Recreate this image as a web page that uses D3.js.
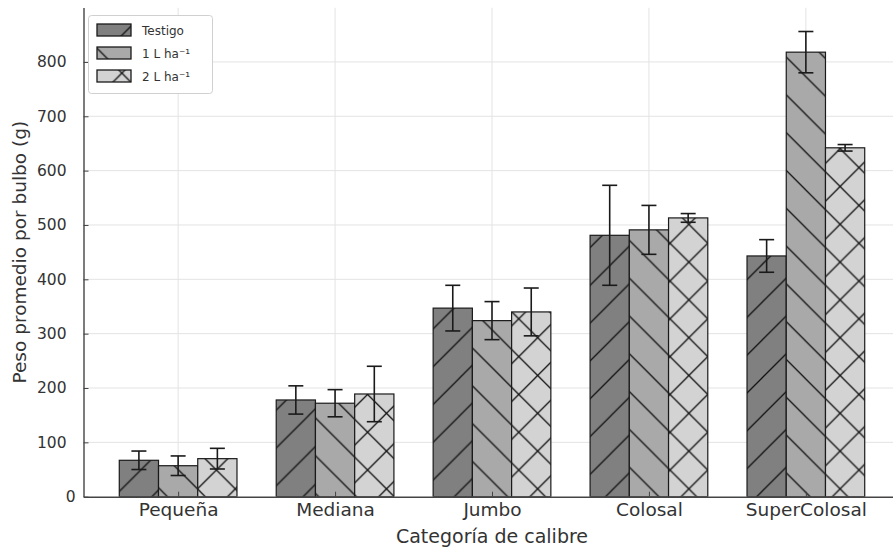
<!DOCTYPE html>
<html>
<head>
<meta charset="utf-8">
<script src="https://cdn.jsdelivr.net/npm/d3@7"></script>
<style>
  html, body { margin: 0; padding: 0; background: #fff; }
  svg { display: block; }
  text { font-family: "DejaVu Sans", sans-serif; fill: #333; }
</style>
</head>
<body>
<svg id="chart" width="893" height="550"></svg>
<script>
// Calibre categories and treatment means (g per bulb) with their error ranges
const categories = ["Pequeña", "Mediana", "Jumbo", "Colosal", "SuperColosal"];
const seriesNames = ["Testigo", "1 L ha⁻¹", "2 L ha⁻¹"];
const testigo    = [67, 178, 347, 481, 443];
const testigoErr = [17, 26, 42, 92, 30];
const dosis1     = [57, 172, 324, 491, 818];
const dosis1Err  = [18, 25, 35, 45, 38];
const dosis2     = [70, 189, 340, 513, 642];
const dosis2Err  = [19, 51, 44, 8, 6];
const yTicks     = [0, 100, 200, 300, 400, 500, 600, 700, 800];

const seriesValues = [testigo, dosis1, dosis2];
const seriesErrors = [testigoErr, dosis1Err, dosis2Err];
const fills   = ["#808080", "#a9a9a9", "#d3d3d3"];
const hatches = [["ne"], ["nw"], ["ne", "nw"]];

const svg = d3.select("#chart");
const plot = { left: 83.5, right: 900.5, top: 7.6, bottom: 496.7 };

// Numeric x position: category i sits at i, bars offset by a quarter unit
const x = d3.scaleLinear().domain([-0.603, 4.603]).range([plot.left, plot.right]);
const y = d3.scaleLinear().domain([0, 900]).range([plot.bottom, plot.top]);
const barW = x(0.25) - x(0);

// Hatch patterns anchored to the page, like a global hatch grid
const P = 37.8;
const defs = svg.append("defs");
function hatchPattern(id, dir, offset) {
  const p = defs.append("pattern")
    .attr("id", id)
    .attr("patternUnits", "userSpaceOnUse")
    .attr("width", P).attr("height", P)
    .attr("x", offset).attr("y", 0);
  const d = dir === "ne"
    ? `M-2,2 L2,-2 M0,${P} L${P},0 M${P-2},${P+2} L${P+2},${P-2}`
    : `M0,0 L${P},${P} M${P-2},-2 L${P+2},2 M-2,${P-2} L2,${P+2}`;
  p.append("path").attr("d", d)
    .attr("stroke", "#111").attr("stroke-width", 1.3).attr("fill", "none");
}
hatchPattern("hatch-ne", "ne", 6);
hatchPattern("hatch-nw", "nw", 11);

defs.append("clipPath").attr("id", "plot-clip")
  .append("rect").attr("x", plot.left).attr("y", plot.top)
  .attr("width", plot.right - plot.left).attr("height", plot.bottom - plot.top);

// Grid
const grid = svg.append("g").attr("clip-path", "url(#plot-clip)");
grid.selectAll("line.h").data(yTicks.slice(1)).join("line")
  .attr("x1", plot.left).attr("x2", plot.right)
  .attr("y1", d => y(d)).attr("y2", d => y(d))
  .attr("stroke", "#e3e3e3").attr("stroke-width", 1);
grid.selectAll("line.v").data(categories).join("line")
  .attr("x1", (d, i) => x(i)).attr("x2", (d, i) => x(i))
  .attr("y1", plot.top).attr("y2", plot.bottom)
  .attr("stroke", "#e3e3e3").attr("stroke-width", 1);

// Bars
const bars = svg.append("g").attr("clip-path", "url(#plot-clip)");
seriesValues.forEach((vals, s) => {
  const g = bars.append("g");
  const xs = (i) => x(i + (s - 1) * 0.25) - barW / 2;
  g.selectAll("rect.fill").data(vals).join("rect")
    .attr("x", (d, i) => xs(i)).attr("y", d => y(d))
    .attr("width", barW).attr("height", d => y(0) - y(d))
    .attr("fill", fills[s]);
  hatches[s].forEach(h => {
    g.selectAll("rect.h-" + h).data(vals).join("rect")
      .attr("class", "h-" + h)
      .attr("x", (d, i) => xs(i)).attr("y", d => y(d))
      .attr("width", barW).attr("height", d => y(0) - y(d))
      .attr("fill", `url(#hatch-${h})`);
  });
  g.selectAll("rect.edge").data(vals).join("rect")
    .attr("class", "edge")
    .attr("x", (d, i) => xs(i)).attr("y", d => y(d))
    .attr("width", barW).attr("height", d => y(0) - y(d))
    .attr("fill", "none").attr("stroke", "#1a1a1a").attr("stroke-width", 1.2);
});

// Error bars
const errG = svg.append("g").attr("stroke", "#1a1a1a").attr("stroke-width", 1.6);
seriesValues.forEach((vals, s) => {
  vals.forEach((v, i) => {
    const e = seriesErrors[s][i];
    const cx = x(i + (s - 1) * 0.25);
    const cap = 7.5;
    errG.append("line").attr("x1", cx).attr("x2", cx).attr("y1", y(v - e)).attr("y2", y(v + e));
    errG.append("line").attr("x1", cx - cap).attr("x2", cx + cap).attr("y1", y(v + e)).attr("y2", y(v + e));
    errG.append("line").attr("x1", cx - cap).attr("x2", cx + cap).attr("y1", y(v - e)).attr("y2", y(v - e));
  });
});

// Axes
const yAxis = d3.axisLeft(y).tickValues(yTicks).tickSizeInner(-5).tickSizeOuter(0).tickPadding(17);
const yg = svg.append("g").attr("transform", `translate(${plot.left},0)`).call(yAxis);
yg.select(".domain").attr("stroke", "#444").attr("stroke-width", 1.4);
yg.selectAll(".tick line").attr("stroke", "#444");
yg.selectAll(".tick text").attr("font-size", 15.5).attr("fill", "#333")
  .attr("dx", d => d === 0 ? 9 : 0);

const xAxis = d3.axisBottom(x).tickValues(d3.range(categories.length))
  .tickFormat(i => categories[i]).tickSizeInner(-5).tickSizeOuter(0).tickPadding(6);
const xg = svg.append("g").attr("transform", `translate(0,${plot.bottom})`).call(xAxis);
xg.select(".domain").attr("stroke", "#444").attr("stroke-width", 1.4);
xg.selectAll(".tick line").attr("stroke", "#444");
xg.selectAll(".tick text").attr("font-size", 18.5).attr("fill", "#333");

svg.append("text").attr("x", (plot.left + plot.right) / 2).attr("y", 543)
  .attr("text-anchor", "middle").attr("font-size", 19).text("Categoría de calibre");
svg.append("text").attr("transform", `translate(26,${(plot.top + plot.bottom) / 2}) rotate(-90)`)
  .attr("text-anchor", "middle").attr("font-size", 18.5).text("Peso promedio por bulbo (g)");

// Legend
const leg = svg.append("g");
leg.append("rect").attr("x", 88.5).attr("y", 15.5).attr("width", 124).attr("height", 78).attr("rx", 3)
  .attr("fill", "#fff").attr("stroke", "#d0d0d0");
seriesNames.forEach((name, s) => {
  const ly = 24 + s * 23;
  const px = 97, pw = 34, ph = 12;
  leg.append("rect").attr("x", px).attr("y", ly).attr("width", pw).attr("height", ph).attr("fill", fills[s]);
  hatches[s].forEach(h => leg.append("rect").attr("x", px).attr("y", ly).attr("width", pw).attr("height", ph)
    .attr("fill", `url(#hatch-${h})`));
  leg.append("rect").attr("x", px).attr("y", ly).attr("width", pw).attr("height", ph)
    .attr("fill", "none").attr("stroke", "#1a1a1a").attr("stroke-width", 1.3);
  leg.append("text").attr("x", 142).attr("y", ly + 10.5).attr("font-size", 12).text(name);
});
</script>
</body>
</html>
